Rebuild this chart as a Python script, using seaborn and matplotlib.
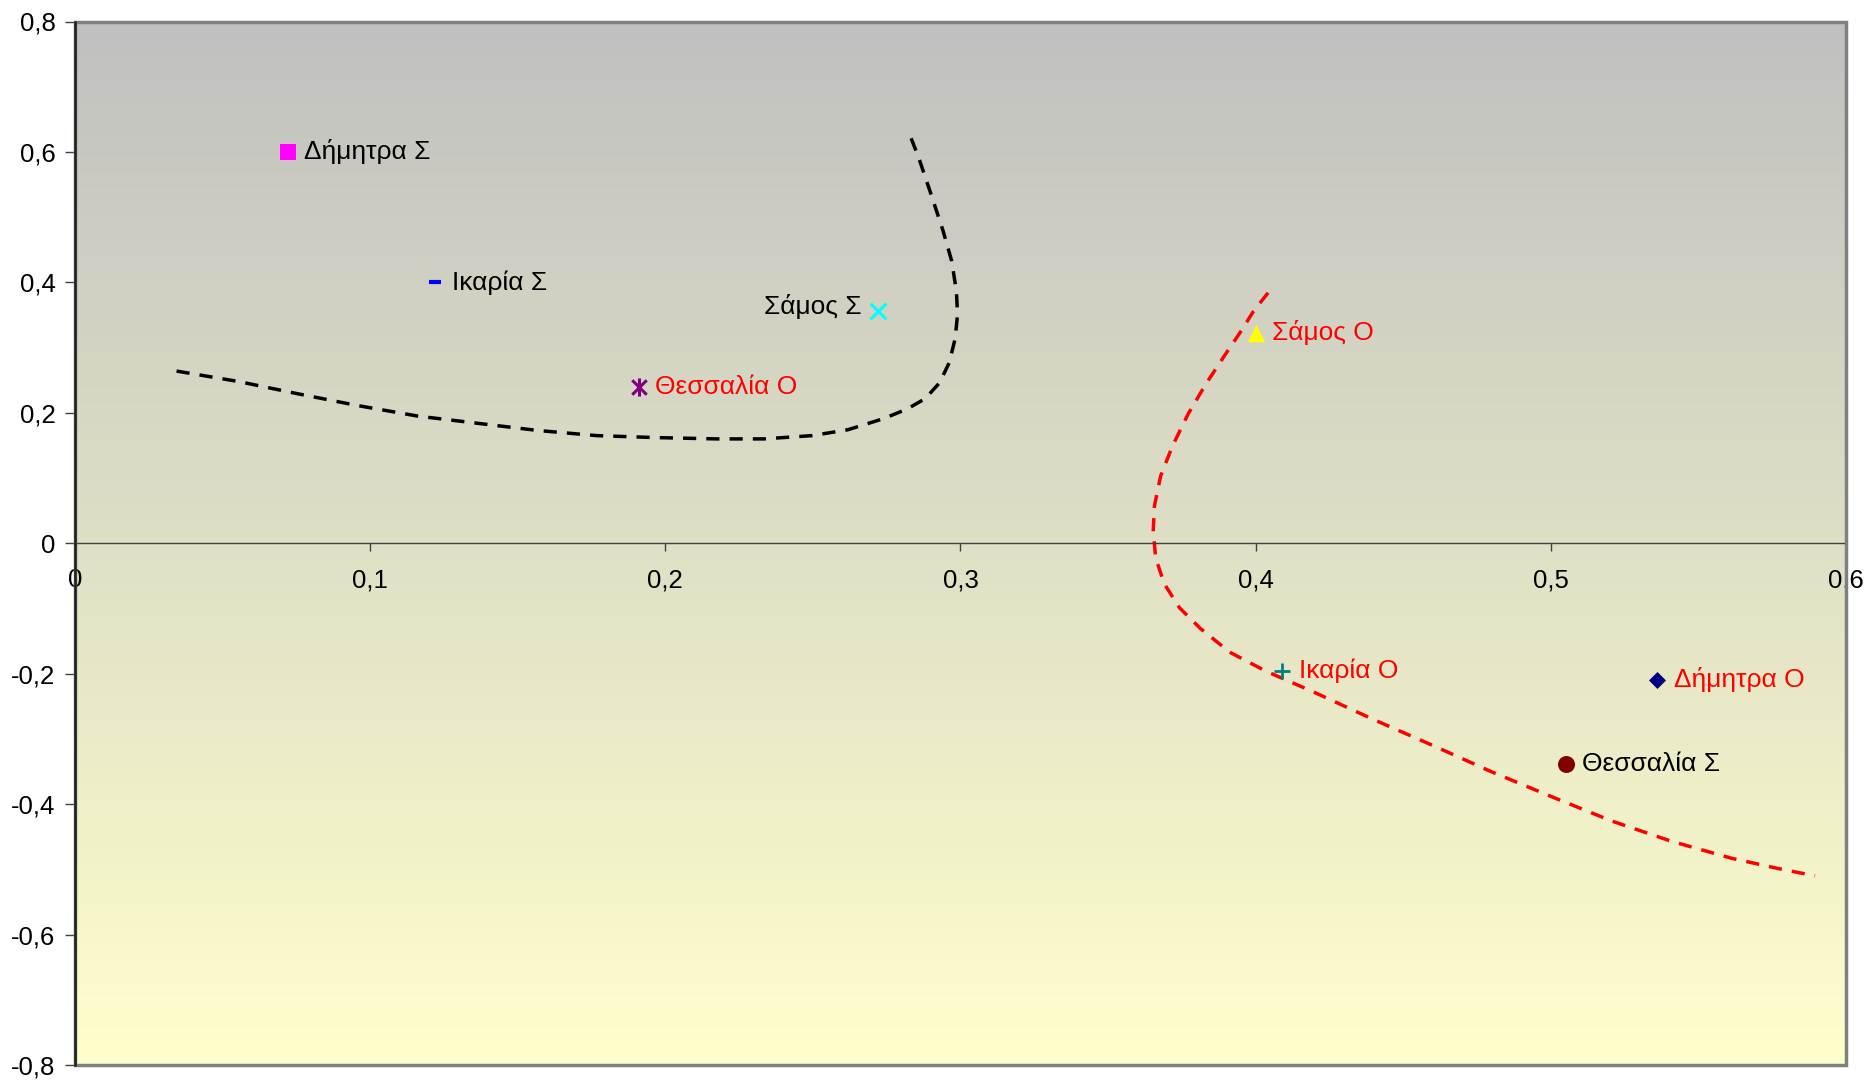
import numpy as np
import pandas as pd
import matplotlib
matplotlib.use("Agg")
import matplotlib.pyplot as plt
from matplotlib.path import Path
from matplotlib.patches import Rectangle
from matplotlib.colors import LinearSegmentedColormap
import seaborn as sns

# ---------------- data ----------------
labels = ["Δήμητρα Σ", "Ικαρία Σ", "Σάμος Σ", "Θεσσαλία Ο",
          "Σάμος Ο", "Ικαρία Ο", "Δήμητρα Ο", "Θεσσαλία Σ"]
px = [0.072, 0.122, 0.272, 0.191, 0.400, 0.409, 0.536, 0.505]
py = [0.600, 0.400, 0.356, 0.240, 0.323, -0.196, -0.209, -0.339]
label_colors = ["black", "black", "black", "red", "red", "red", "red", "black"]
marker_colors = ["#FF00FF", "#0000FF", "#00FFFF", "#800080",
                 "#FFFF00", "#008080", "#000080", "#800000"]

black_x = [0.0344, 0.0554, 0.0757, 0.0959, 0.1161, 0.1363, 0.1566, 0.1768,
           0.1970, 0.2173, 0.2334, 0.2496, 0.2618, 0.2739, 0.2820, 0.2881,
           0.2929, 0.2962, 0.2982, 0.2990, 0.2986, 0.2970, 0.2941, 0.2901,
           0.2860, 0.2832]
black_y = [0.264, 0.248, 0.229, 0.211, 0.195, 0.184, 0.173, 0.165,
           0.162, 0.160, 0.160, 0.165, 0.174, 0.191, 0.206, 0.222,
           0.246, 0.277, 0.314, 0.351, 0.387, 0.433, 0.479, 0.534,
           0.589, 0.622]

red_x = [0.4042, 0.3993, 0.3953, 0.3892, 0.3831, 0.3771, 0.3718, 0.3678,
         0.3657, 0.3653, 0.3661, 0.3690, 0.3742, 0.3811, 0.3912, 0.4034,
         0.4196, 0.4398, 0.4600, 0.4802, 0.5005, 0.5207, 0.5409, 0.5612,
         0.5773, 0.5895]
red_y = [0.384, 0.356, 0.327, 0.286, 0.244, 0.198, 0.149, 0.103,
         0.057, 0.020, -0.022, -0.062, -0.099, -0.130, -0.167, -0.196,
         -0.228, -0.270, -0.310, -0.351, -0.389, -0.426, -0.457, -0.483,
         -0.499, -0.510]

x_ticks = [0, 0.1, 0.2, 0.3, 0.4, 0.5, 0.6]
x_ticklabels = ["0", "0,1", "0,2", "0,3", "0,4", "0,5", "0,6"]
y_ticks = [-0.8, -0.6, -0.4, -0.2, 0, 0.2, 0.4, 0.6, 0.8]
y_ticklabels = ["-0,8", "-0,6", "-0,4", "-0,2", "0", "0,2", "0,4", "0,6", "0,8"]

# ---------------- style ----------------
sns.set_style("ticks")
plt.rcParams["font.family"] = ["Liberation Sans", "DejaVu Sans"]

fig = plt.figure(figsize=(18.72, 10.81), dpi=100)
ax = fig.add_axes([75 / 1872, 1 - 1065 / 1081, (1846 - 75) / 1872, (1065 - 21.5) / 1081])
ax.set_xlim(0, 0.6)
ax.set_ylim(-0.8, 0.8)

# gradient background
cmap = LinearSegmentedColormap.from_list("bg", ["#FFFFCC", "#C0C0C0"])
grad = np.linspace(0, 1, 256).reshape(-1, 1)
ax.imshow(grad, cmap=cmap, extent=[0, 1, 0, 1], transform=ax.transAxes,
          aspect="auto", origin="lower", zorder=0)

# curves
dash = (0, (3.8, 2.9))
sns.lineplot(x=black_x, y=black_y, sort=False, estimator=None, color="black",
             linewidth=2.5, linestyle=dash, ax=ax, zorder=3)
sns.lineplot(x=red_x, y=red_y, sort=False, estimator=None, color="#FF0000",
             linewidth=2.5, linestyle=dash, ax=ax, zorder=3)

# asterisk marker (x with vertical bar)
ast = Path([(-1, -1), (1, 1), (-1, 1), (1, -1), (0, -1.25), (0, 1.25)],
           [Path.MOVETO, Path.LINETO, Path.MOVETO, Path.LINETO, Path.MOVETO, Path.LINETO])

marker_specs = [
    dict(marker="s", s=120, lw=0),
    dict(marker="_", s=70, lw=3),
    dict(marker="x", s=130, lw=2.2),
    dict(marker=ast, s=170, lw=2.2),
    dict(marker="^", s=160, lw=0),
    dict(marker="+", s=130, lw=2),
    dict(marker="D", s=75, lw=0),
    dict(marker="o", s=150, lw=0),
]

for xi, yi, mc, spec in zip(px, py, marker_colors, marker_specs):
    filled = isinstance(spec["marker"], str) and spec["marker"] in ("s", "^", "D", "o")
    if filled:
        sns.scatterplot(x=[xi], y=[yi], marker=spec["marker"], s=spec["s"],
                        color=mc, linewidth=0, ax=ax, zorder=5)
    else:
        ax.scatter([xi], [yi], marker=spec["marker"], s=spec["s"], c=mc,
                   linewidths=spec["lw"], zorder=5)

# labels
for lab, xi, yi, lc in zip(labels, px, py, label_colors):
    if lab == "Σάμος Σ":
        ax.annotate(lab, (xi, yi), xytext=(-12, 3), textcoords="offset points",
                    ha="right", va="center", fontsize=19, color=lc, zorder=6)
    else:
        ax.annotate(lab, (xi, yi), xytext=(12, 0), textcoords="offset points",
                    ha="left", va="center", fontsize=19, color=lc, zorder=6)

# axes / spines
for s in ["top", "right"]:
    ax.spines[s].set_visible(False)
ax.spines["bottom"].set_position(("data", 0))
ax.spines["bottom"].set_color("#404040")
ax.spines["bottom"].set_linewidth(1.0)
ax.spines["bottom"].set_zorder(4)
ax.spines["left"].set_color("#202020")
ax.spines["left"].set_linewidth(1.8)
ax.spines["left"].set_zorder(7)

frame = Rectangle((0, 0), 1, 1, transform=ax.transAxes, fill=False,
                  edgecolor="#808080", linewidth=2.5, zorder=6, clip_on=False)
ax.add_patch(frame)

ax.set_xticks(x_ticks)
ax.set_xticklabels(x_ticklabels)
ax.set_yticks(y_ticks)
ax.set_yticklabels(y_ticklabels)
ax.tick_params(axis="x", direction="out", length=6, width=1, color="#404040",
               pad=12, labelsize=18.5, labelcolor="black")
ax.tick_params(axis="y", direction="out", length=7, width=1, color="#404040",
               pad=7, labelsize=18.5, labelcolor="black")
ax.set_xlabel("")
ax.set_ylabel("")

fig.savefig("out.png", dpi=100, facecolor="white")
